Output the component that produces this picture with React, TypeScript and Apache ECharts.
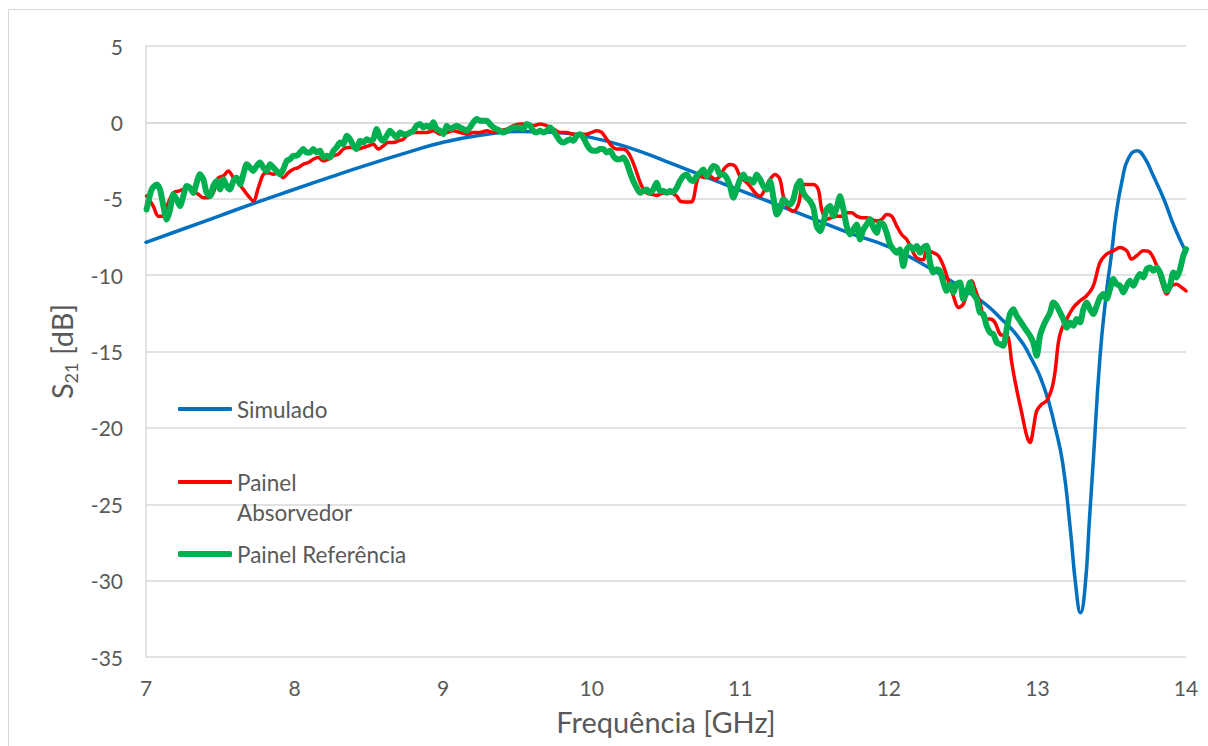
import React, { useEffect, useRef } from 'react';
import * as echarts from 'echarts';

const xTicks = [7, 8, 9, 10, 11, 12, 13, 14];
const yTicks = [-35, -30, -25, -20, -15, -10, -5, 0, 5];

const simFreq = [7.0, 7.25, 7.5, 7.75, 8.0, 8.25, 8.5, 8.75, 9.0, 9.25, 9.5, 9.75, 10.0, 10.25, 10.5, 10.75, 11.0, 11.25, 11.5, 11.75, 12.0, 12.25, 12.5, 12.65, 12.75, 12.85, 12.95, 13.05, 13.12, 13.17, 13.22, 13.26, 13.29, 13.32, 13.35, 13.375, 13.42, 13.46, 13.5, 13.53, 13.57, 13.61, 13.67, 13.72, 13.78, 13.85, 13.92, 14.0];
const simS21 = [-7.85, -6.98, -6.1, -5.22, -4.38, -3.55, -2.75, -2.0, -1.3, -0.85, -0.6, -0.65, -1.0, -1.65, -2.55, -3.5, -4.45, -5.4, -6.35, -7.3, -8.15, -9.4, -10.9, -11.9, -12.8, -13.8, -15.3, -17.5, -20.0, -22.3, -26.5, -30.5, -32.1, -30.5, -26.0, -22.3, -15.5, -11.5, -8.5, -6.0, -3.8, -2.4, -1.85, -2.3, -3.5, -5.0, -6.8, -8.5];

const absFreq = [7.004, 7.049, 7.083, 7.117, 7.15, 7.184, 7.218, 7.251, 7.285, 7.319, 7.352, 7.386, 7.42, 7.453, 7.487, 7.521, 7.554, 7.588, 7.621, 7.655, 7.689, 7.722, 7.756, 7.79, 7.823, 7.857, 7.891, 7.924, 7.958, 7.992, 8.025, 8.059, 8.093, 8.126, 8.16, 8.194, 8.227, 8.261, 8.295, 8.328, 8.362, 8.396, 8.429, 8.463, 8.497, 8.53, 8.564, 8.597, 8.631, 8.665, 8.698, 8.732, 8.754, 8.799, 8.844, 8.889, 8.934, 8.979, 9.024, 9.069, 9.113, 9.158, 9.203, 9.248, 9.293, 9.338, 9.383, 9.428, 9.472, 9.517, 9.562, 9.607, 9.652, 9.697, 9.742, 9.787, 9.831, 9.876, 9.921, 9.966, 10.0, 10.033, 10.067, 10.101, 10.134, 10.168, 10.202, 10.235, 10.269, 10.303, 10.336, 10.37, 10.404, 10.437, 10.471, 10.527, 10.572, 10.594, 10.628, 10.662, 10.684, 10.706, 10.729, 10.763, 10.796, 10.83, 10.864, 10.897, 10.931, 10.965, 10.998, 11.032, 11.065, 11.099, 11.133, 11.166, 11.2, 11.234, 11.267, 11.29, 11.323, 11.357, 11.391, 11.424, 11.458, 11.492, 11.525, 11.548, 11.581, 11.615, 11.649, 11.683, 11.716, 11.75, 11.783, 11.817, 11.851, 11.884, 11.918, 11.952, 11.985, 12.019, 12.053, 12.086, 12.12, 12.154, 12.187, 12.232, 12.254, 12.299, 12.333, 12.367, 12.4, 12.434, 12.468, 12.501, 12.535, 12.557, 12.58, 12.613, 12.647, 12.681, 12.714, 12.748, 12.782, 12.804, 12.827, 12.86, 12.894, 12.928, 12.95, 12.972, 12.995, 13.029, 13.062, 13.096, 13.118, 13.141, 13.163, 13.197, 13.242, 13.287, 13.331, 13.376, 13.421, 13.466, 13.511, 13.556, 13.601, 13.634, 13.668, 13.713, 13.758, 13.803, 13.837, 13.87, 13.904, 13.937, 13.971, 14.0];
const absS21 = [-4.82, -5.48, -6.14, -6.14, -5.26, -4.61, -4.5, -4.39, -4.17, -4.5, -4.71, -4.93, -4.93, -4.61, -3.62, -3.51, -3.18, -3.62, -3.95, -4.39, -4.82, -5.15, -4.28, -3.4, -3.29, -3.4, -3.29, -3.62, -3.29, -3.07, -2.96, -2.74, -2.63, -2.41, -2.3, -2.52, -2.41, -2.19, -2.08, -1.75, -1.64, -1.64, -1.75, -1.64, -1.54, -1.43, -1.75, -1.54, -1.32, -1.32, -1.21, -1.1, -0.88, -0.66, -0.66, -0.66, -0.55, -0.77, -0.66, -0.55, -0.66, -0.77, -0.66, -0.66, -0.55, -0.66, -0.55, -0.44, -0.22, -0.11, -0.11, -0.22, -0.11, -0.22, -0.44, -0.66, -0.66, -0.77, -0.77, -0.77, -0.66, -0.55, -0.66, -1.1, -1.54, -1.75, -1.75, -1.86, -2.41, -3.29, -4.17, -4.61, -4.71, -4.78, -4.65, -4.61, -4.83, -5.15, -5.22, -5.22, -5.04, -3.95, -3.52, -3.62, -3.52, -3.73, -3.52, -2.97, -2.75, -2.86, -3.52, -3.84, -4.17, -4.61, -4.83, -4.39, -3.73, -3.41, -3.73, -4.83, -5.59, -5.81, -5.37, -4.06, -4.06, -4.06, -4.39, -5.7, -6.35, -6.24, -6.14, -6.14, -5.92, -5.92, -6.14, -6.24, -6.24, -6.35, -6.46, -6.35, -6.03, -6.14, -6.79, -7.34, -7.66, -8.32, -8.86, -9.0, -8.41, -8.52, -8.73, -9.39, -10.37, -11.35, -12.12, -11.9, -10.81, -10.37, -10.92, -11.79, -12.88, -12.88, -13.1, -13.86, -13.97, -14.08, -15.72, -17.47, -19.0, -20.52, -20.96, -20.09, -18.89, -18.45, -18.23, -17.47, -16.38, -14.41, -13.54, -12.88, -12.12, -11.68, -11.35, -10.7, -9.17, -8.62, -8.41, -8.19, -8.41, -8.95, -8.73, -8.41, -8.52, -9.39, -10.48, -11.24, -10.7, -10.59, -10.81, -11.03];

const refFreq = [7.004, 7.038, 7.072, 7.094, 7.117, 7.139, 7.162, 7.184, 7.206, 7.229, 7.251, 7.274, 7.296, 7.319, 7.341, 7.363, 7.386, 7.408, 7.431, 7.453, 7.476, 7.498, 7.521, 7.543, 7.565, 7.588, 7.61, 7.633, 7.655, 7.678, 7.7, 7.722, 7.745, 7.767, 7.79, 7.812, 7.835, 7.857, 7.879, 7.902, 7.924, 7.947, 7.969, 7.992, 8.014, 8.037, 8.059, 8.081, 8.104, 8.126, 8.149, 8.171, 8.194, 8.216, 8.238, 8.261, 8.283, 8.306, 8.328, 8.351, 8.373, 8.396, 8.418, 8.44, 8.463, 8.485, 8.508, 8.53, 8.553, 8.575, 8.597, 8.62, 8.642, 8.665, 8.687, 8.71, 8.732, 8.754, 8.777, 8.799, 8.822, 8.844, 8.867, 8.889, 8.912, 8.934, 8.956, 8.979, 9.001, 9.024, 9.046, 9.069, 9.091, 9.113, 9.136, 9.158, 9.181, 9.203, 9.226, 9.248, 9.27, 9.293, 9.315, 9.338, 9.36, 9.383, 9.405, 9.428, 9.45, 9.472, 9.495, 9.517, 9.54, 9.562, 9.585, 9.607, 9.63, 9.652, 9.674, 9.697, 9.719, 9.742, 9.764, 9.787, 9.809, 9.831, 9.854, 9.876, 9.899, 9.921, 9.944, 9.966, 9.988, 10.011, 10.033, 10.056, 10.078, 10.101, 10.123, 10.145, 10.168, 10.19, 10.213, 10.235, 10.258, 10.28, 10.303, 10.325, 10.347, 10.37, 10.392, 10.415, 10.437, 10.46, 10.482, 10.505, 10.527, 10.549, 10.572, 10.594, 10.617, 10.639, 10.662, 10.684, 10.706, 10.729, 10.751, 10.774, 10.796, 10.819, 10.841, 10.864, 10.886, 10.908, 10.931, 10.953, 10.976, 10.998, 11.021, 11.043, 11.065, 11.088, 11.11, 11.133, 11.155, 11.178, 11.2, 11.223, 11.245, 11.267, 11.29, 11.312, 11.335, 11.357, 11.38, 11.402, 11.424, 11.447, 11.469, 11.492, 11.514, 11.537, 11.559, 11.581, 11.604, 11.626, 11.649, 11.671, 11.694, 11.716, 11.738, 11.761, 11.783, 11.806, 11.828, 11.851, 11.873, 11.896, 11.918, 11.94, 11.963, 11.985, 12.008, 12.03, 12.053, 12.075, 12.097, 12.12, 12.142, 12.165, 12.187, 12.21, 12.232, 12.254, 12.277, 12.299, 12.322, 12.344, 12.367, 12.389, 12.412, 12.434, 12.456, 12.479, 12.501, 12.524, 12.546, 12.569, 12.591, 12.613, 12.636, 12.658, 12.681, 12.703, 12.726, 12.748, 12.771, 12.793, 12.815, 12.838, 12.86, 12.883, 12.905, 12.928, 12.95, 12.972, 12.995, 13.017, 13.04, 13.062, 13.085, 13.107, 13.13, 13.152, 13.174, 13.197, 13.219, 13.242, 13.264, 13.287, 13.309, 13.331, 13.354, 13.376, 13.399, 13.421, 13.444, 13.466, 13.488, 13.511, 13.533, 13.556, 13.578, 13.601, 13.623, 13.646, 13.668, 13.69, 13.713, 13.735, 13.758, 13.78, 13.803, 13.825, 13.847, 13.87, 13.892, 13.915, 13.937, 13.96, 13.982, 14.0];
const refS21 = [-5.7, -4.39, -4.06, -4.39, -5.48, -6.36, -5.7, -4.71, -5.04, -5.48, -4.82, -4.17, -4.28, -4.61, -3.95, -3.4, -3.73, -4.61, -4.82, -4.17, -3.84, -4.39, -3.73, -4.17, -4.39, -3.84, -3.62, -4.06, -3.4, -2.74, -2.96, -3.18, -2.85, -2.63, -2.96, -3.18, -2.74, -2.96, -3.18, -3.4, -3.07, -2.52, -2.41, -2.19, -2.19, -1.97, -1.75, -1.97, -1.97, -1.75, -1.97, -1.86, -2.3, -2.19, -2.3, -1.86, -1.64, -1.32, -1.43, -0.88, -1.1, -1.54, -1.75, -1.21, -1.32, -1.1, -1.21, -1.1, -0.44, -0.99, -1.21, -0.88, -0.55, -0.77, -0.99, -0.66, -0.77, -0.77, -0.66, -0.55, -0.22, -0.11, -0.33, -0.22, -0.33, 0.0, -0.44, -0.55, -0.77, -0.22, -0.44, -0.33, -0.22, -0.33, -0.44, -0.55, -0.33, 0.0, 0.22, 0.11, 0.11, 0.11, -0.11, -0.33, -0.44, -0.55, -0.66, -0.55, -0.44, -0.33, -0.33, -0.33, -0.44, -0.11, -0.22, -0.55, -0.66, -0.55, -0.66, -0.55, -0.33, -0.55, -0.88, -1.21, -1.32, -1.21, -1.1, -1.21, -0.88, -0.77, -0.99, -1.43, -1.75, -1.86, -1.86, -1.75, -1.75, -1.97, -1.86, -2.19, -2.41, -2.41, -2.3, -2.63, -3.29, -3.84, -4.28, -4.61, -4.5, -4.39, -4.61, -4.39, -3.95, -4.5, -4.5, -4.61, -4.5, -4.56, -4.28, -3.84, -3.52, -3.41, -3.73, -3.84, -3.52, -3.3, -3.08, -3.52, -3.19, -2.86, -2.97, -3.41, -3.41, -3.62, -4.17, -4.93, -4.39, -3.73, -3.41, -3.73, -3.73, -3.95, -3.41, -3.73, -4.17, -4.39, -3.84, -4.93, -6.03, -5.7, -5.04, -5.26, -5.37, -5.04, -4.17, -3.84, -4.61, -4.93, -5.15, -5.59, -6.79, -7.12, -6.57, -5.7, -5.48, -6.14, -5.59, -4.83, -5.7, -6.79, -7.34, -7.01, -6.68, -7.66, -7.01, -6.68, -6.35, -6.9, -7.23, -6.57, -6.68, -7.23, -7.99, -8.32, -8.54, -8.32, -9.41, -8.32, -8.1, -8.32, -8.1, -8.54, -8.19, -8.08, -9.17, -9.83, -9.61, -9.72, -10.48, -11.03, -10.59, -11.14, -10.59, -10.48, -11.57, -11.14, -10.48, -11.24, -11.57, -12.45, -12.55, -13.32, -13.76, -13.86, -14.41, -14.52, -14.63, -13.54, -12.55, -12.23, -12.66, -12.99, -13.32, -13.65, -13.97, -14.41, -15.28, -13.97, -13.32, -12.88, -12.45, -11.79, -12.01, -12.45, -12.88, -13.43, -13.1, -13.32, -12.88, -13.1, -12.23, -11.79, -12.23, -12.55, -12.01, -11.46, -11.24, -11.57, -10.92, -10.26, -10.59, -10.7, -11.14, -10.7, -10.37, -10.7, -10.26, -9.93, -10.15, -9.61, -9.5, -9.72, -9.5, -9.83, -10.48, -11.03, -10.7, -9.83, -10.15, -9.61, -8.73, -8.3];

const seriesNames = ['Simulado', 'Painel Absorvedor', 'Painel Referência'];
const seriesColors = ['#0070C0', '#FF0000', '#00B050'];

function zip(f: number[], v: number[]) {
  return f.map((x, i) => [x, v[i]]);
}

const FONT = 'Lato, "Open Sans", sans-serif';
const TXT = '#595959';
const GRID = '#d9d9d9';

export default function App() {
  const ref = useRef<HTMLDivElement>(null);
  useEffect(() => {
    const chart = echarts.init(ref.current!, null, { renderer: 'svg' });
    const legendText = { color: TXT, fontSize: 22.5, fontFamily: FONT, lineHeight: 30 };
    chart.setOption({
      animation: false,
      backgroundColor: '#ffffff',
      textStyle: { fontFamily: FONT },
      grid: { left: 146, right: 22, top: 46, bottom: 89 },
      graphic: [
        {
          type: 'rect',
          silent: true,
          z: -10,
          shape: { x: 8.5, y: 9.5, width: 1300, height: 800 },
          style: { fill: 'none', stroke: GRID, lineWidth: 1 },
        },
      ],
      legend: [
        {
          data: [seriesNames[0]],
          left: 178, top: 394, padding: 0,
          itemWidth: 54, itemHeight: 4, icon: 'roundRect', itemGap: 5,
          textStyle: legendText,
        },
        {
          data: [seriesNames[1]],
          left: 178, top: 437, padding: 0,
          itemWidth: 54, itemHeight: 4, icon: 'roundRect',
          formatter: () => '\nPainel\nAbsorvedor',
          textStyle: legendText,
        },
        {
          data: [seriesNames[2]],
          left: 178, top: 539, padding: 0,
          itemWidth: 54, itemHeight: 6, icon: 'roundRect',
          textStyle: legendText,
        },
      ],
      xAxis: {
        type: 'value',
        min: xTicks[0],
        max: xTicks[xTicks.length - 1],
        interval: 1,
        name: 'Frequência [GHz]',
        nameLocation: 'middle',
        nameGap: 50,
        nameTextStyle: { color: TXT, fontSize: 29, fontFamily: FONT },
        axisLine: { show: true, lineStyle: { color: GRID, width: 1.5 } },
        axisTick: { show: false },
        axisLabel: { color: TXT, fontSize: 21, fontFamily: FONT, margin: 20 },
        splitLine: { show: false },
      },
      yAxis: {
        type: 'value',
        min: yTicks[0],
        max: yTicks[yTicks.length - 1],
        interval: 5,
        name: 'S{sub|21} [dB]',
        nameLocation: 'middle',
        nameGap: 65,
        nameRotate: 90,
        nameTextStyle: {
          color: TXT, fontSize: 29, fontFamily: FONT, lineHeight: 36,
          rich: {
            sub: { fontSize: 18, color: TXT, fontFamily: FONT, verticalAlign: 'bottom', lineHeight: 36, padding: [14, 0, 0, 0] },
          },
        },
        axisLine: { show: true, lineStyle: { color: GRID, width: 1.5 } },
        axisTick: { show: false },
        axisLabel: { color: TXT, fontSize: 21, fontFamily: FONT, margin: 23 },
        splitLine: { show: true, lineStyle: { color: GRID, width: 1.5 } },
      },
      series: [
        {
          name: seriesNames[0], type: 'line', data: zip(simFreq, simS21),
          smooth: 0.5, showSymbol: false, symbol: 'none',
          color: seriesColors[0],
          lineStyle: { color: seriesColors[0], width: 3.5, cap: 'round', join: 'round' },
          z: 2,
        },
        {
          name: seriesNames[1], type: 'line', data: zip(absFreq, absS21),
          smooth: 0.35, showSymbol: false, symbol: 'none',
          color: seriesColors[1],
          lineStyle: { color: seriesColors[1], width: 3.5, cap: 'round', join: 'round' },
          z: 3,
        },
        {
          name: seriesNames[2], type: 'line', data: zip(refFreq, refS21),
          smooth: 0.25, showSymbol: false, symbol: 'none',
          color: seriesColors[2],
          lineStyle: { color: seriesColors[2], width: 6, cap: 'round', join: 'round' },
          z: 4,
        },
      ],
    });
    return () => chart.dispose();
  }, []);
  return (
    <div
      ref={ref}
      style={{ position: 'fixed', left: 0, top: 0, width: 1208, height: 746, background: '#fff' }}
    />
  );
}
